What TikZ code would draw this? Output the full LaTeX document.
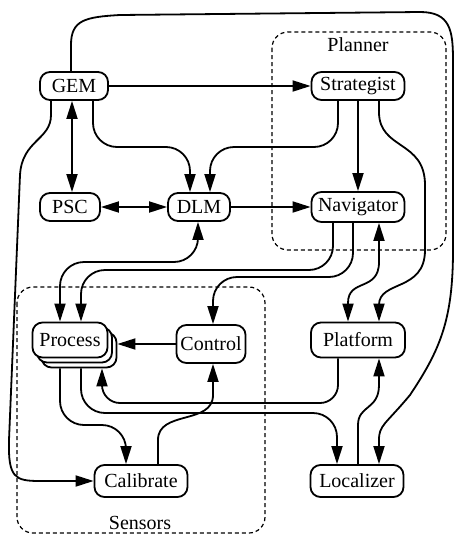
\documentclass[tikz,border=0pt]{standalone}
\usepackage{fontspec}
\setmainfont{Liberation Serif}
\usetikzlibrary{arrows.meta}
\usetikzlibrary{shadows}

\begin{document}
\begin{tikzpicture}[x=0.5pt, y=-0.5pt, line width=0.9pt,
  box/.style={draw, fill=white, rounded corners=5pt, minimum height=14pt, inner xsep=2pt, inner ysep=1pt},
  grp/.style={line width=0.6pt, dash pattern=on 2pt off 1.5pt, rounded corners=8pt},
  arr/.style={-{Triangle[length=9pt,width=5.5pt]}},
  dbl/.style={{Triangle[length=9pt,width=5.5pt]}-{Triangle[length=9pt,width=5.5pt]}},
  rc/.style={rounded corners=12pt}]
\useasboundingbox (0,0) rectangle (455,536);

\draw[grp] (272,32) rectangle (446,250);
\draw[grp] (17,287) rectangle (265,533);
\node (planner) at (358,45) {Planner};
\node (sensors) at (140,523) {Sensors};

\node[box, minimum width=34pt] (gem) at (74,86) {GEM};
\node[box, minimum width=46.5pt] (strat) at (358,86) {Strategist};
\node[box, minimum width=30pt] (psc) at (70,207) {PSC};
\node[box, minimum width=31pt] (dlm) at (199,207) {DLM};
\node[box, minimum width=46.5pt, minimum height=15pt] (nav) at (358,207) {Navigator};
\node[box, minimum width=37.5pt, minimum height=17.5pt,
  double copy shadow={shadow xshift=2.25pt, shadow yshift=-2.5pt}] (proc) at (70,340) {Process};
\node[box, minimum width=34pt, minimum height=19pt] (ctrl) at (211,344) {Control};
\node[box, minimum width=47pt, minimum height=17.5pt] (plat) at (358,340) {Platform};
\node[box, minimum width=46.5pt, minimum height=16pt] (calib) at (141,481) {Calibrate};
\node[box, minimum width=46.5pt, minimum height=16pt] (loc) at (357,481) {Localizer};
\coordinate (procb) at ([yshift=-5pt]proc.south);
\coordinate (proce) at ([xshift=4.5pt]proc.east);

\draw[arr] (gem) -- (strat);
\draw[arr] (gem.north -| 71,0) -- (71,45) .. controls (71,20) and (85,17) .. (120,15) -- (420,12)
  .. controls (450,12) and (453,30) .. (453,60) -- (453,250)
  .. controls (453,320) and (440,350) .. (410,395) .. controls (385,425) and (379,425) .. (379,440)
  -- (loc.north -| 379,0);
\draw[dbl] (gem.south -| 72,0) -- (psc.north -| 72,0);
\draw[arr, rc] (gem.south -| 93,0) |- (190,147) -- (dlm.north -| 190,0);
\draw[arr, rc] (strat.south -| 338,0) |- (210,147) -- (dlm.north -| 210,0);
\draw[arr] (strat) -- (nav);
\draw[arr] (strat.south -| 379,0) -- (379,112) .. controls (379,150) and (425,140) .. (425,185) -- (425,250)
  .. controls (425,292) and (379,280) .. (379,305) -- (plat.north -| 379,0);
\draw[arr] (gem.south -| 51,0) -- (51,115) .. controls (51,140) and (22,140) .. (20,175) -- (9,440)
  .. controls (8,478) and (15,481) .. (40,481) -- (calib.west);
\draw[dbl] (psc) -- (dlm);
\draw[arr] (dlm) -- (nav);
\draw[dbl, rc] (dlm.south -| 198,0) |- (60,262) -- (proc.north -| 60,0);
\draw[arr, rc] (nav.south -| 333,0) |- (81,270) -- (proc.north -| 81,0);
\draw[arr, rc] (nav.south -| 353,0) |- (213,277) -- (ctrl.north -| 213,0);
\draw[dbl] (nav.south -| 379,0) -- (379,262) .. controls (379,292) and (348,278) .. (348,303) -- (plat.north -| 348,0);
\draw[arr] (ctrl.west) -- (ctrl.west -| proce);
\draw[arr, rounded corners=9pt] (plat.south -| 338,0) |- (102,403) -- (procb -| 102,0);
\draw[arr, rc] (procb -| 60,0) |- (126,425) -- (calib.north -| 126,0);
\draw[arr, rc] (procb -| 81,0) |- (337,413) -- (loc.north -| 337,0);
\draw[arr] (calib.north -| 158,0) -- (158,440) .. controls (158,410) and (213,425) .. (213,395) -- (ctrl.south -| 213,0);
\draw[arr] (loc.north -| 358,0) -- (358,425) .. controls (358,405) and (379,410) .. (379,385) -- (plat.south -| 379,0);
\end{tikzpicture}
\end{document}
